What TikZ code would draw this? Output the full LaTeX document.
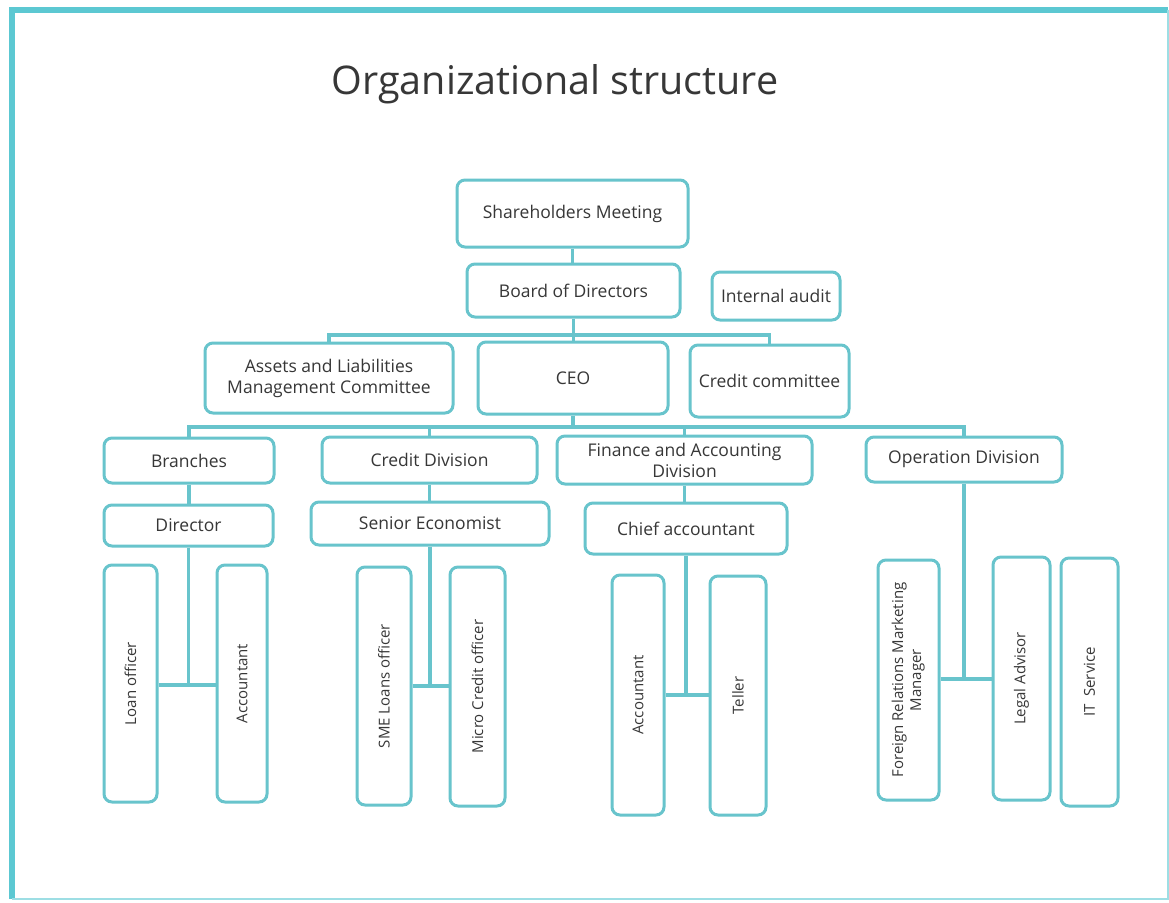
\documentclass[tikz,border=0pt]{standalone}
\usepackage{fontspec}
\usepackage{graphicx}
\setmainfont{Open Sans}
\definecolor{frameteal}{RGB}{92,200,210}
\definecolor{boxteal}{RGB}{104,196,204}
\definecolor{txt}{RGB}{55,55,55}
\tikzset{
  box/.style={draw=boxteal, line width=3pt, rounded corners=8pt, fill=white,
    align=center, inner sep=0pt, text=txt, font=\fontsize{17.5}{21}\selectfont},
  vbox/.style={box, font=\fontsize{15}{18}\selectfont},
  link/.style={draw=boxteal, line width=3.2pt}
}
\newcommand{\vt}[1]{\rotatebox{90}{#1}}
\begin{document}
\begin{tikzpicture}[x=1pt,y=-1pt]
\useasboundingbox (0,0) rectangle (1169,902);
\fill[white] (0,0) rectangle (1169,902);
\draw[frameteal, line width=6pt] (11.5,899) -- (11.5,10) -- (1168,10);
\draw[frameteal!60, line width=2pt] (1168,10) -- (1168,899) -- (11.5,899);
\node[text=txt, font=\fontsize{39.5}{46}\selectfont] (title) at (555,84) {Organizational structure};

% top
\node[box, minimum width=231pt, minimum height=67pt] (share) at (572.5,213.5) {Shareholders Meeting};
\node[box, minimum width=213pt, minimum height=53pt] (board) at (573.5,290.5) {Board of Directors};
\node[box, minimum width=128pt, minimum height=48pt] (audit) at (776,296) {Internal audit};
\node[box, minimum width=248pt, minimum height=70pt] (almc) at (329,378) {Assets and Liabilities\\Management Committee};
\node[box, minimum width=190pt, minimum height=72pt] (ceo) at (573,378) {CEO};
\node[box, minimum width=159pt, minimum height=72pt] (ccom) at (769.5,381) {Credit committee};
% divisions
\node[box, minimum width=170pt, minimum height=45pt] (branches) at (189,460.5) {Branches};
\node[box, minimum width=215pt, minimum height=46pt] (cdiv) at (429.5,460) {Credit Division};
\node[box, minimum width=255pt, minimum height=48pt] (fin) at (684.5,460) {Finance and Accounting\\Division};
\node[box, minimum width=196pt, minimum height=45pt] (oper) at (964,459.5) {Operation Division};
\node[box, minimum width=169pt, minimum height=41pt] (director) at (188.5,525.5) {Director};
\node[box, minimum width=238pt, minimum height=43pt] (senior) at (430,523.5) {Senior Economist};
\node[box, minimum width=202pt, minimum height=51pt] (chief) at (686,528.5) {Chief accountant};
% staff
\node[vbox, minimum width=53pt, minimum height=237pt] (loan) at (130.5,683.5) {\vt{Loan officer}};
\node[vbox, minimum width=50pt, minimum height=237pt] (accb) at (242,683.5) {\vt{Accountant}};
\node[vbox, minimum width=54pt, minimum height=238pt] (sme) at (384,686) {\vt{SME Loans officer}};
\node[vbox, minimum width=55pt, minimum height=239pt] (micro) at (477.5,686.5) {\vt{Micro Credit officer}};
\node[vbox, minimum width=52pt, minimum height=240pt] (accf) at (638,695) {\vt{Accountant}};
\node[vbox, minimum width=56pt, minimum height=239pt] (teller) at (738,695.5) {\vt{Teller}};
\node[vbox, minimum width=61pt, minimum height=240pt] (foreign) at (908.5,680) {\vt{\begin{tabular}{@{}c@{}}Foreign Relations Marketing\\Manager\end{tabular}}};
\node[vbox, minimum width=57pt, minimum height=243pt] (legal) at (1021.5,678.5) {\vt{Legal Advisor}};
\node[vbox, minimum width=57pt, minimum height=248pt] (it) at (1089.5,682) {\vt{IT~~Service}};

% junction coordinates
\coordinate (h1) at (573,335);
\coordinate (h2) at (573,427);
\coordinate (jb) at (189,685);
\coordinate (jc) at (430,686);
\coordinate (jf) at (686,695);
\coordinate (jo) at (965,679);

\draw[link] (share.south) -- (share.south |- board.north);
\draw[link] (board.south) -- (board.south |- ceo.north);
\draw[link] (almc.north) |- (h1) -| (ccom.north);
\draw[link] (ceo.south) -- (h2);
\draw[link] (branches.north) |- (h2) -| (oper.north);
\draw[link] (cdiv.north) -- (cdiv.north |- h2);
\draw[link] (fin.north) -- (fin.north |- h2);
\draw[link] (branches.south) -- (branches.south |- director.north);
\draw[link] (director.south) -- (director.south |- jb);
\draw[link] (loan.east |- jb) -- (accb.west |- jb);
\draw[link] (cdiv.south) -- (cdiv.south |- senior.north);
\draw[link] (senior.south) -- (senior.south |- jc);
\draw[link] (sme.east |- jc) -- (micro.west |- jc);
\draw[link] (fin.south) -- (fin.south |- chief.north);
\draw[link] (chief.south) -- (chief.south |- jf);
\draw[link] (accf.east |- jf) -- (teller.west |- jf);
\draw[link] (oper.south) -- (oper.south |- jo);
\draw[link] (foreign.east |- jo) -- (legal.west |- jo);
\end{tikzpicture}
\end{document}
